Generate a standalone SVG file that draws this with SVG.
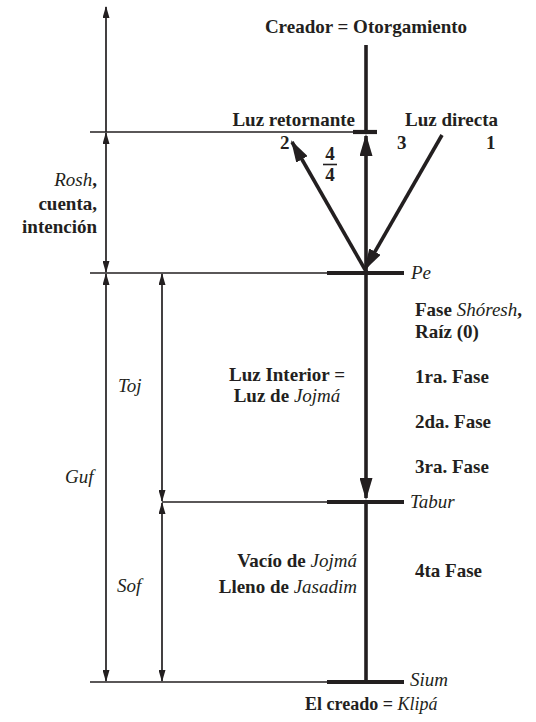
<svg xmlns="http://www.w3.org/2000/svg" width="536" height="722" viewBox="0 0 536 722" font-family="Liberation Serif, DejaVu Serif, serif">
<style>
text{font-family:'Liberation Serif','DejaVu Serif',serif;font-size:19px;fill:#231f20}
.b{font-weight:bold}
.i{font-style:italic;font-weight:normal}
.thin{stroke:#231f20;stroke-width:1.4;fill:none}
.dim{stroke:#231f20;stroke-width:1.7;fill:none}
.thick{stroke:#231f20;stroke-width:3.6;fill:none}
.bar{stroke:#231f20;stroke-width:4.2;fill:none}
</style>
<defs>
<marker id="sa" markerUnits="userSpaceOnUse" viewBox="0 0 12 7" markerWidth="12" markerHeight="7" refX="11" refY="3.5" orient="auto-start-reverse">
<path d="M0,0 L12,3.5 L0,7 z" fill="#231f20"/>
</marker>
<marker id="ba" markerUnits="userSpaceOnUse" viewBox="0 0 22 13" markerWidth="22" markerHeight="13" refX="20" refY="6.5" orient="auto">
<path d="M0,0 L22,6.5 L0,13 z" fill="#231f20"/>
</marker>
</defs>
<g id="connectors">
<line class="thin" x1="90" y1="132" x2="353" y2="132"/>
<line class="thin" x1="90" y1="273" x2="327" y2="273"/>
<line class="thin" x1="162" y1="502" x2="327" y2="502"/>
<line class="thin" x1="90" y1="682" x2="327" y2="682"/>
<line class="dim" x1="106" y1="132" x2="106" y2="7" marker-end="url(#sa)"/>
<line class="dim" x1="106" y1="133" x2="106" y2="272" marker-start="url(#sa)" marker-end="url(#sa)"/>
<line class="dim" x1="106" y1="274" x2="106" y2="681" marker-start="url(#sa)" marker-end="url(#sa)"/>
<line class="dim" x1="162" y1="274" x2="162" y2="501" marker-start="url(#sa)" marker-end="url(#sa)"/>
<line class="dim" x1="162" y1="503" x2="162" y2="681" marker-start="url(#sa)" marker-end="url(#sa)"/>
<line class="thick" x1="366" y1="45" x2="366" y2="132"/>
<line class="thick" x1="366" y1="275" x2="366" y2="136" marker-end="url(#ba)"/>
<line class="thick" x1="366" y1="273" x2="366" y2="498" marker-end="url(#ba)"/>
<line class="thick" x1="366" y1="502" x2="366" y2="682"/>
<line class="thick" x1="442" y1="135" x2="365" y2="269" marker-end="url(#ba)"/>
<line class="thick" x1="367" y1="273" x2="292" y2="142" marker-end="url(#ba)"/>
<line class="bar" x1="353" y1="132" x2="377" y2="132"/>
<line class="bar" x1="327" y1="273" x2="404" y2="273"/>
<line class="bar" x1="327" y1="502" x2="404" y2="502"/>
<line class="bar" x1="327" y1="682" x2="404" y2="682"/>
<line class="thin" x1="323" y1="164.5" x2="337" y2="164.5" style="stroke-width:1.6"/>
</g>
<g id="creador"><text class="b" x="366" y="33" text-anchor="middle">Creador = Otorgamiento</text></g>
<g id="luz-retornante"><text class="b" x="355" y="126" text-anchor="end">Luz retornante</text></g>
<g id="luz-directa"><text class="b" x="405" y="126">Luz directa</text></g>
<g id="num-2"><text class="b" x="280" y="149">2</text></g>
<g id="num-3"><text class="b" x="397" y="149">3</text></g>
<g id="num-1"><text class="b" x="486" y="149">1</text></g>
<g id="fraccion"><text class="b" x="330" y="160" text-anchor="middle">4</text><text class="b" x="330" y="181" text-anchor="middle">4</text></g>
<g id="rosh"><text class="b" x="97" y="186" text-anchor="end"><tspan class="i">Rosh</tspan>,</text><text class="b" x="97" y="210" text-anchor="end">cuenta,</text><text class="b" x="97" y="233" text-anchor="end">intención</text></g>
<g id="pe"><text class="i" x="411" y="279">Pe</text></g>
<g id="fases">
<text class="b" x="415" y="316">Fase <tspan class="i">Shóresh</tspan>,</text>
<text class="b" x="415" y="338">Raíz (0)</text>
<text class="b" x="415" y="383">1ra. Fase</text>
<text class="b" x="415" y="428">2da. Fase</text>
<text class="b" x="415" y="473">3ra. Fase</text>
</g>
<g id="luz-interior"><text class="b" x="287" y="381" text-anchor="middle">Luz Interior =</text><text class="b" x="287" y="402" text-anchor="middle">Luz de <tspan class="i">Jojmá</tspan></text></g>
<g id="toj"><text class="i" x="118" y="392">Toj</text></g>
<g id="guf"><text class="i" x="65" y="483">Guf</text></g>
<g id="sof"><text class="i" x="117" y="592">Sof</text></g>
<g id="tabur"><text class="i" x="410" y="508">Tabur</text></g>
<g id="vacio"><text class="b" x="357" y="567" text-anchor="end">Vacío de <tspan class="i">Jojmá</tspan></text><text class="b" x="357" y="593" text-anchor="end">Lleno de <tspan class="i">Jasadim</tspan></text></g>
<g id="fase4"><text class="b" x="415" y="577">4ta Fase</text></g>
<g id="sium"><text class="i" x="410" y="686">Sium</text></g>
<g id="creado"><text class="b" x="305" y="710" style="font-size:18px">El creado = <tspan class="i">Klipá</tspan></text></g>
</svg>
